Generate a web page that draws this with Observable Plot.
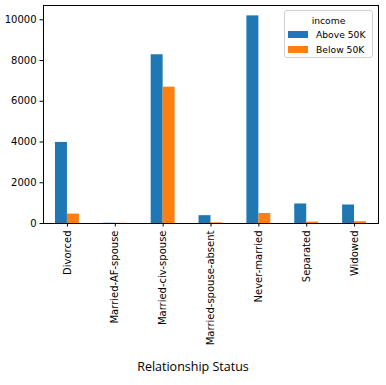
<!DOCTYPE html>
<html>
<head>
<meta charset="utf-8">
<script src="https://cdn.jsdelivr.net/npm/d3@7"></script>
<script src="https://cdn.jsdelivr.net/npm/@observablehq/plot@0.6"></script>
<style>
  html, body { margin: 0; padding: 0; background: #fff; }
  #wrap { position: relative; width: 386px; height: 385px; }
  #legend { position: absolute; left: 284px; top: 10px; width: 89px; height: 48px;
    border: 1px solid #d0d0d0; border-radius: 3px; background: rgba(255,255,255,0.85);
    font: 9.2px "DejaVu Sans", sans-serif; color: #000; box-sizing: border-box; }
  #legend .title { text-align: center; margin-top: 3px; height: 13px; line-height: 13px; }
  #legend .row { display: flex; align-items: center; height: 15px; }
  #legend .sw { width: 20px; height: 7px; margin-left: 3px; margin-right: 8px; flex: none; }
  #xlabel { position: absolute; left: 0; top: 358px; width: 386px; text-align: center;
    font: 12.5px "Open Sans", sans-serif; color: #000; }
  svg text { font-family: "DejaVu Sans", sans-serif; }
</style>
</head>
<body>
<div id="wrap">
  <div id="chart"></div>
  <div id="legend"></div>
  <div id="xlabel">Relationship Status</div>
</div>
<script>
const categories = ["Divorced", "Married-AF-spouse", "Married-civ-spouse", "Married-spouse-absent", "Never-married", "Separated", "Widowed"];
const series = ["Above 50K", "Below 50K"];
const colors = ["#1f77b4", "#ff7f0e"];
const above = [3980, 13, 8284, 384, 10192, 959, 908];
const below = [463, 10, 6692, 34, 491, 66, 85];
const yTicks = [0, 2000, 4000, 6000, 8000, 10000];

const data = categories.flatMap((c, i) => [
  {cat: c, i, s: series[0], k: 0, v: above[i]},
  {cat: c, i, s: series[1], k: 1, v: below[i]}
]);
const barW = 0.25;
const yMax = d3.max(data, d => d.v) * 1.05;
const font = "DejaVu Sans";

const chart = Plot.plot({
  width: 386,
  height: 350,
  marginTop: 5,
  marginLeft: 43,
  marginRight: 8,
  marginBottom: 127,
  style: {fontFamily: "'DejaVu Sans', sans-serif", fontSize: "10px", color: "#000", background: "#fff"},
  x: {type: "linear", domain: [-0.5, categories.length - 0.5]},
  y: {domain: [0, yMax]},
  color: {domain: series, range: colors},
  marks: [
    Plot.rectY(data, {
      x1: d => d.i - barW + barW * d.k,
      x2: d => d.i + barW * d.k,
      y: "v",
      fill: "s"
    }),
    Plot.axisY({ticks: yTicks, tickSize: 3.5, tickPadding: 3.5, label: null, tickFormat: d => String(d), fontFamily: font, fontSize: 10}),
    Plot.axisX({ticks: d3.range(categories.length), tickFormat: i => categories[i], tickRotate: -90, tickSize: 3.5, tickPadding: 3.5, label: null, fontFamily: font, fontSize: 10}),
    Plot.frame({stroke: "#000"})
  ]
});
document.getElementById("chart").appendChild(chart);

const legend = document.getElementById("legend");
legend.innerHTML = `<div class="title">income</div>` + series.map((s, j) =>
  `<div class="row"><div class="sw" style="background:${colors[j]}"></div><span>${s}</span></div>`).join("");
</script>
</body>
</html>
